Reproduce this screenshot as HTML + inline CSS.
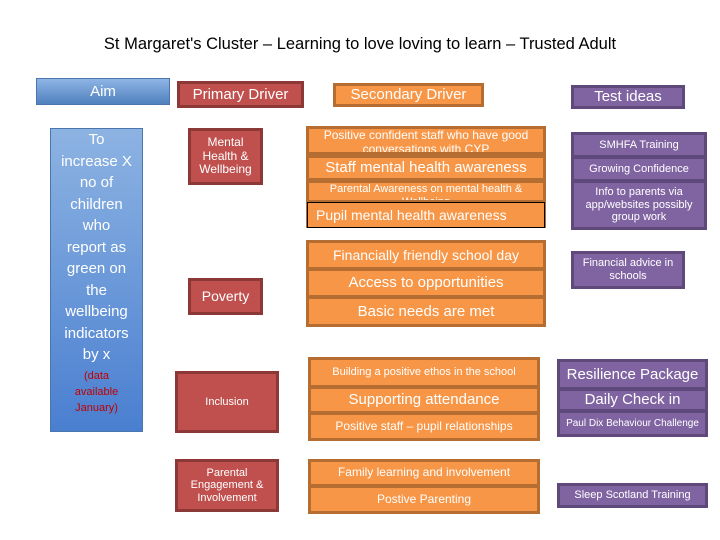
<!DOCTYPE html>
<html><head><meta charset="utf-8"><style>
body{margin:0;width:720px;height:540px;background:#fff;position:relative;overflow:hidden;font-family:"Liberation Sans",sans-serif;}
.b{position:absolute;box-sizing:border-box;display:flex;align-items:center;justify-content:center;text-align:center;color:#fff;line-height:1.15;overflow:hidden;}
.r{background:#c0504d;border:3px solid #8c3836;}
.o{background:#f79646;border:3px solid #b66d31;}
.p{background:#8064a2;border:3px solid #5f497a;}
.g{position:absolute;box-sizing:border-box;}
</style></head><body>
<div class="b" style="left:0;top:32px;width:720px;height:24px;color:#000;font-size:16.5px;">St Margaret's Cluster – Learning to love loving to learn – Trusted Adult</div>

<div class="b" style="left:36px;top:78px;width:134px;height:27px;background:linear-gradient(#8fb4e6,#4f81bd);border:1px solid #4a76ad;font-size:15px;align-items:flex-start;padding-top:4px">Aim</div>
<div class="b" style="left:50px;top:128px;width:93px;height:304px;background:linear-gradient(#8db3e2,#4a7fd0);border:1px solid #4a76ad;font-size:15px;line-height:21.5px;flex-direction:column;justify-content:flex-start;">
<div>To<br>increase X<br>no of<br>children<br>who<br>report as<br>green on<br>the<br>wellbeing<br>indicators<br>by x</div>
<div style="color:#c00000;font-size:11px;line-height:16px;margin-top:2px">(data<br>available<br>January)</div></div>

<div class="b r" style="left:177px;top:81px;width:127px;height:27px;font-size:15px">Primary Driver</div>
<div class="b r" style="left:188px;top:128px;width:75px;height:57px;font-size:12px">Mental Health &amp; Wellbeing</div>
<div class="b r" style="left:188px;top:278px;width:75px;height:37px;font-size:14px">Poverty</div>
<div class="b r" style="left:175px;top:371px;width:104px;height:62px;font-size:11px">Inclusion</div>
<div class="b r" style="left:175px;top:459px;width:104px;height:53px;font-size:11px">Parental Engagement &amp; Involvement</div>

<div class="b o" style="left:333px;top:83px;width:151px;height:24px;font-size:15px">Secondary Driver</div>
<div class="g" style="left:306px;top:126px;width:240px;height:102px;background:#b66d31"></div>
<div class="b o" style="left:306px;top:126px;width:240px;height:29px;font-size:12px;align-items:flex-start;padding-top:0">Positive confident staff who have good conversations with CYP</div>
<div class="b o" style="left:306px;top:155px;width:240px;height:26px;font-size:15px">Staff mental health awareness</div>
<div class="b o" style="left:306px;top:180px;width:240px;height:23px;font-size:11px;align-items:flex-start">Parental Awareness on mental health &amp; Wellbeing</div>
<div class="b" style="left:307px;top:202px;width:238px;height:26px;background:#f79646;border:1px solid #000;font-size:14px;justify-content:flex-start;padding-left:8px">Pupil mental health awareness</div>

<div class="b o" style="left:306px;top:240px;width:240px;height:30px;font-size:14px">Financially friendly school day</div>
<div class="b o" style="left:306px;top:268px;width:240px;height:30px;font-size:15px">Access to opportunities</div>
<div class="b o" style="left:306px;top:296px;width:240px;height:31px;font-size:15px">Basic needs are met</div>

<div class="b o" style="left:308px;top:357px;width:232px;height:31px;font-size:11px">Building a positive ethos in the school</div>
<div class="b o" style="left:308px;top:386px;width:232px;height:28px;font-size:15px">Supporting attendance</div>
<div class="b o" style="left:308px;top:412px;width:232px;height:29px;font-size:12px">Positive staff – pupil relationships</div>

<div class="b o" style="left:308px;top:459px;width:232px;height:28px;font-size:12px">Family learning and involvement</div>
<div class="b o" style="left:308px;top:485px;width:232px;height:29px;font-size:12px">Postive Parenting</div>

<div class="b p" style="left:571px;top:85px;width:114px;height:24px;font-size:15px">Test ideas</div>
<div class="b p" style="left:571px;top:132px;width:136px;height:26px;font-size:11px">SMHFA Training</div>
<div class="b p" style="left:571px;top:156px;width:136px;height:26px;font-size:11px">Growing Confidence</div>
<div class="b p" style="left:571px;top:180px;width:136px;height:50px;font-size:11px">Info to parents via app/websites possibly group work</div>
<div class="b p" style="left:571px;top:251px;width:114px;height:38px;font-size:11px">Financial advice in schools</div>

<div class="b p" style="left:557px;top:359px;width:151px;height:31px;font-size:15px">Resilience Package</div>
<div class="b p" style="left:557px;top:388px;width:151px;height:24px;font-size:15px">Daily Check in</div>
<div class="b p" style="left:557px;top:410px;width:151px;height:27px;font-size:10px;white-space:nowrap">Paul Dix Behaviour Challenge</div>
<div class="b p" style="left:557px;top:483px;width:151px;height:25px;font-size:11px">Sleep Scotland Training</div>
</body></html>
